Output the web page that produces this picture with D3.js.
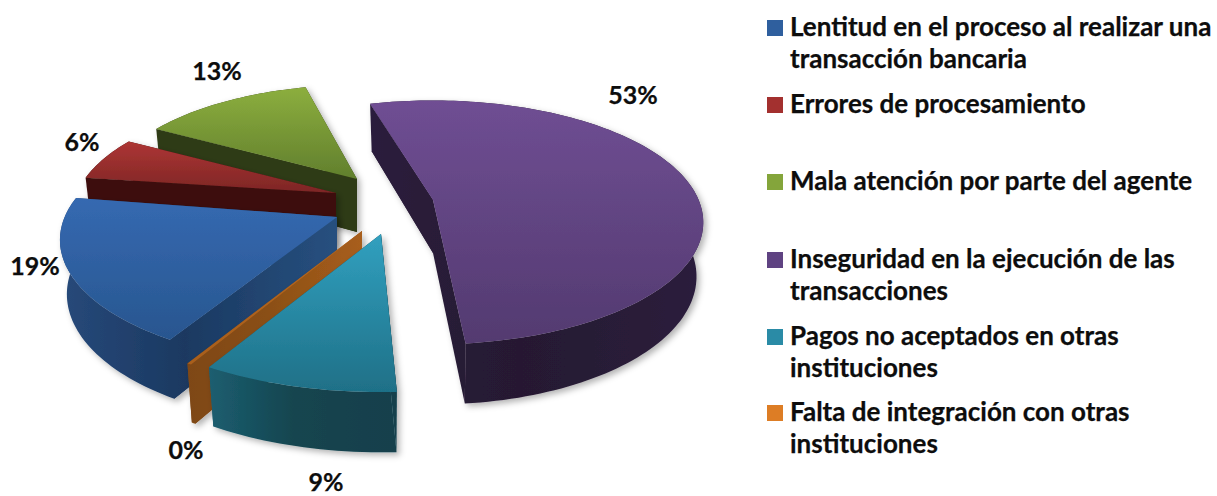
<!DOCTYPE html>
<html><head><meta charset="utf-8">
<script src="https://cdn.jsdelivr.net/npm/d3@7"></script>
<style>html,body{margin:0;padding:0;background:#fff}svg{display:block}text{font-family:Lato,"Open Sans",sans-serif;font-weight:700;fill:#0d0d0d;stroke:#0d0d0d;stroke-width:.25px}</style>
</head><body><div id="chart"></div>
<script>
const categories = ["Lentitud en el proceso al realizar una transacción bancaria","Errores de procesamiento","Mala atención por parte del agente","Inseguridad en la ejecución de las transacciones","Pagos no aceptados en otras instituciones","Falta de integración con otras instituciones"];
const legendLines = [["Lentitud en el proceso al realizar una","transacción bancaria"],["Errores de procesamiento"],["Mala atención por parte del agente"],["Inseguridad en la ejecución de las","transacciones"],["Pagos no aceptados en otras","instituciones"],["Falta de integración con otras","instituciones"]];
const values = [19,6,13,53,9,0.2];
const valueLabels = ["19%","6%","13%","53%","9%","0%"];

// layout (exploded slice apex, per-slice perspective scale and angle nudge, label anchors, legend baselines)
const apexX = [337,336,357,433,381,362];
const apexY = [217,193,179,200,234,231];
const sliceScale = [1.02,0.97,0.94,0.995,1.09,1.09];
const sliceNudge = [2.6,1,1,-1.2,2,1.8];
const labelX = [35,82,217,633,326,186];
const labelY = [275,151,80,104,491,459];
const legendY = [36,113,190,268,345,421];
const drawOrder = [2,1,0,3,5,4];

// styles
const topFrom = ["#3569b1","#ad3534","#8cae3e","#6f4e93","#31a0bf","#b8681e"];
const topTo   = ["#28568f","#7d2625","#617f2d","#533a70","#1f7087","#a85e1c"];
const wallA = ["#27497a","#3e100e","#2e3a12","#2b1d3c","#1c5e70","#7e4714"];
const wallB = ["#1b3961","#3e100e","#2e3a12","#261932","#14454f","#8a4f16"];
const wallC = ["#27507f","#3e100e","#2e3a12","#2b1d3c","#123f4c","#a85e1c"];
const swatch = ["#2f5f9e","#a3302f","#84a53b","#5f4382","#2a8ba6","#dd7d25"];

const W=1217,H=496,Rx=267,Ry=118.4,k=0.1837,kd=0.12,D=53,shrink=0.975;
const startDeg=208.5;
const svg=d3.select("#chart").append("svg").attr("width",W).attr("height",H);
const defs=svg.append("defs");
const f=defs.append("filter").attr("id","soft").attr("x","-10%").attr("y","-10%").attr("width","125%").attr("height","125%");
f.append("feDropShadow").attr("dx",3).attr("dy",3).attr("stdDeviation",3).attr("flood-color","#000").attr("flood-opacity",0.3);
const fb=defs.append("filter").attr("id","blur");
fb.append("feGaussianBlur").attr("stdDeviation",0.45);

const a0=startDeg*Math.PI/180;
const arcs=d3.pie().sort(null).startAngle(a0).endAngle(a0+2*Math.PI)(values);
const line=d3.line();

function topPt(t,i){const w=1+k*Math.cos(t),s=sliceScale[i];return [apexX[i]+s*Rx*Math.sin(t)/w,apexY[i]-s*Ry*Math.cos(t)/w];}
function botPt(t,i){const w=1+k*Math.cos(t),wd=1+kd*Math.cos(t),s=sliceScale[i];return [apexX[i]+shrink*s*Rx*Math.sin(t)/w,apexY[i]-s*Ry*Math.cos(t)/w+D/wd];}
function samples(a,i){const n=Math.max(2,Math.ceil((a.endAngle-a.startAngle)*40)),o=sliceNudge[i]*Math.PI/180;return d3.range(n+1).map(j=>o+a.startAngle+(a.endAngle-a.startAngle)*j/n);}

drawOrder.forEach(i=>{
  const a=arcs[i],ts=samples(a,i);
  const topArc=ts.map(t=>topPt(t,i)),botArc=ts.map(t=>botPt(t,i));
  const apexT=[apexX[i],apexY[i]],apexB=[apexX[i],apexY[i]+D];
  const all=topArc.concat(botArc,[apexT,apexB]);
  const xe=d3.extent(all,p=>p[0]),ye=d3.extent(topArc.concat([apexT]),p=>p[1]);
  const gt=defs.append("linearGradient").attr("id","top"+i).attr("gradientUnits","userSpaceOnUse").attr("x1",0).attr("x2",0).attr("y1",ye[0]).attr("y2",ye[1]);
  gt.append("stop").attr("offset",0).attr("stop-color",topFrom[i]);
  gt.append("stop").attr("offset",1).attr("stop-color",topTo[i]);
  const gw=defs.append("linearGradient").attr("id","wall"+i).attr("gradientUnits","userSpaceOnUse").attr("x1",xe[0]).attr("x2",xe[1]).attr("y1",0).attr("y2",0);
  gw.append("stop").attr("offset",0).attr("stop-color",wallA[i]);
  gw.append("stop").attr("offset",0.45).attr("stop-color",wallB[i]);
  gw.append("stop").attr("offset",1).attr("stop-color",wallC[i]);
  const g=svg.append("g").attr("filter","url(#soft)").append("g").attr("filter","url(#blur)");
  const wall=[apexT,...topArc,...botArc.slice().reverse(),apexB];
  g.append("path").attr("d",line(wall)+"Z").attr("fill",`url(#wall${i})`);
  const startWall=[apexT,topArc[0],botArc[0],apexB];
  const endWall=[apexT,topArc[topArc.length-1],botArc[botArc.length-1],apexB];
  g.append("path").attr("d",line(startWall)+"Z").attr("fill",`url(#wall${i})`);
  g.append("path").attr("d",line(endWall)+"Z").attr("fill",`url(#wall${i})`);
  g.append("path").attr("d",line([apexT,...topArc])+"Z").attr("fill",`url(#top${i})`);
});

svg.append("g").selectAll("text").data(valueLabels).join("text")
  .attr("x",(d,i)=>labelX[i]).attr("y",(d,i)=>labelY[i]).attr("text-anchor","middle")
  .attr("font-size",25).text(d=>d);

const lg=svg.append("g").selectAll("g").data(categories).join("g");
lg.append("rect").attr("x",767).attr("y",(d,i)=>legendY[i]-16).attr("width",16).attr("height",16).attr("fill",(d,i)=>swatch[i]);
lg.each(function(d,i){
  d3.select(this).selectAll("text").data(legendLines[i]).join("text")
    .attr("x",790).attr("y",(s,j)=>legendY[i]+j*32).attr("font-size",26).text(s=>s);
});
</script></body></html>
